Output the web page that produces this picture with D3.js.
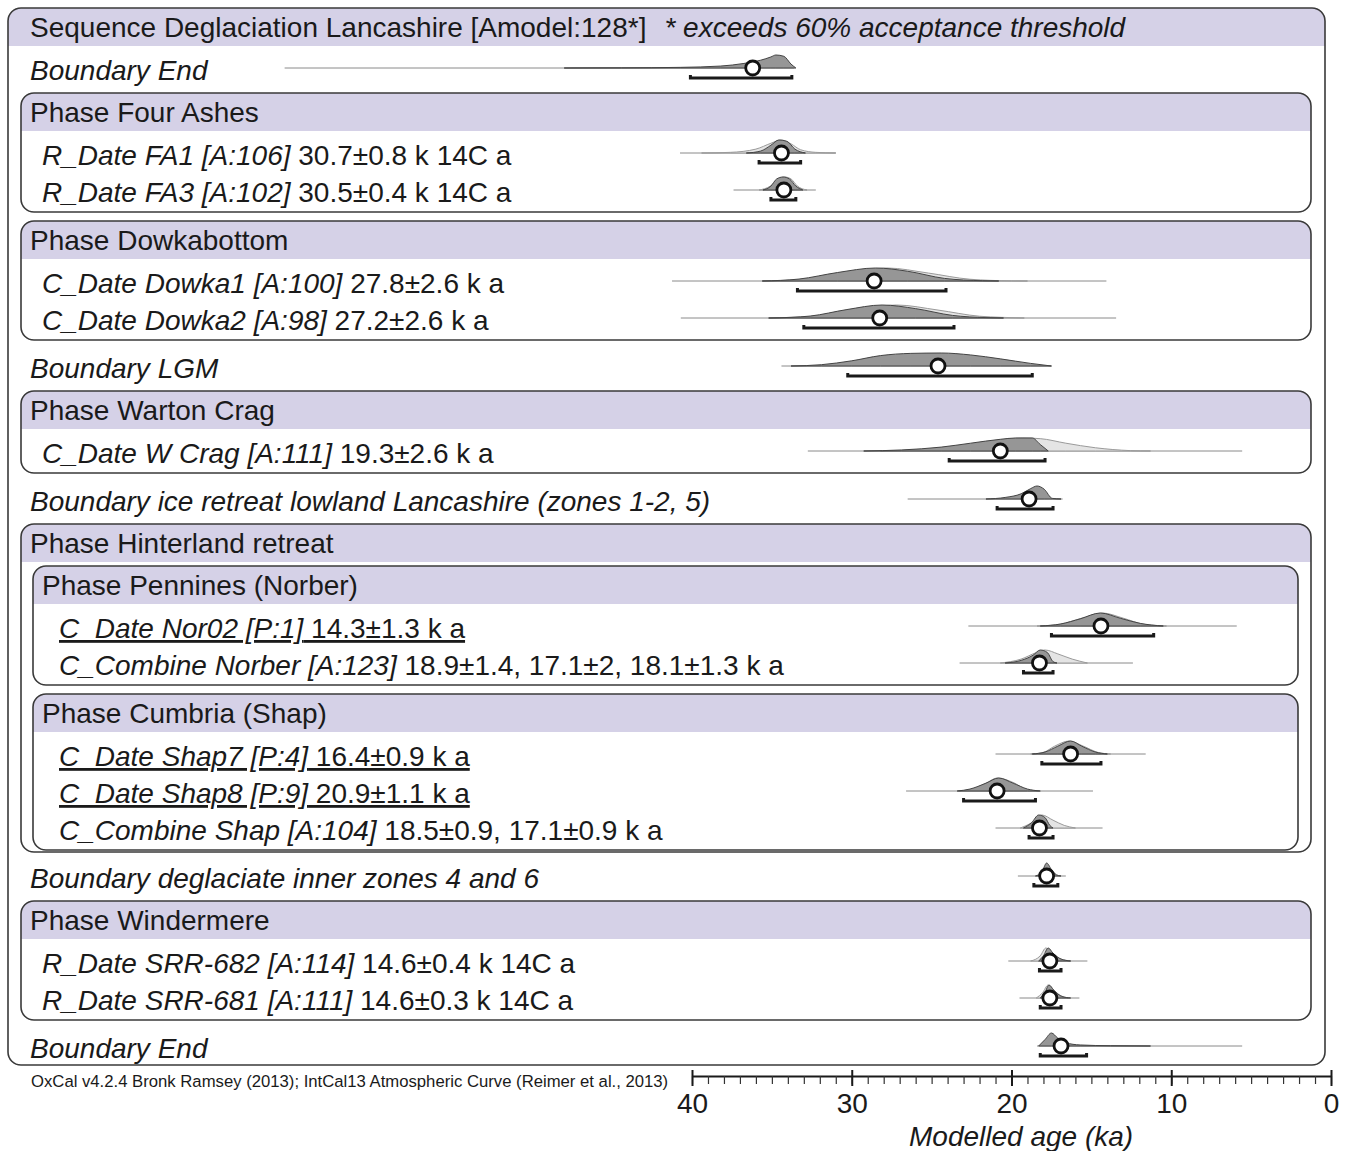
<!DOCTYPE html>
<html>
<head>
<meta charset="utf-8">
<script src="https://cdn.jsdelivr.net/npm/d3@7"></script>
<style>
  body { margin: 0; background: #fff; }
  text { font-family: "Liberation Sans", Arial, sans-serif; fill: #1a1a1a; }
</style>
</head>
<body>
<div id="chart"></div>
<script>
// ---- data (ages in ka, densities relative to peak) ----
const titleText = "Sequence Deglaciation Lancashire [Amodel:128*]";
const titleNote = "* exceeds 60% acceptance threshold";
const creditText = "OxCal v4.2.4 Bronk Ramsey (2013); IntCal13 Atmospheric Curve (Reimer et al., 2013)";
const axisTitle = "Modelled age (ka)";
const majorTicks = [40, 30, 20, 10, 0];

const names = [
  "Boundary End",
  "R_Date FA1 [A:106]", "R_Date FA3 [A:102]",
  "C_Date Dowka1 [A:100]", "C_Date Dowka2 [A:98]",
  "Boundary LGM",
  "C_Date W Crag [A:111]",
  "Boundary ice retreat lowland Lancashire (zones 1-2, 5)",
  "C_Date Nor02 [P:1]", "C_Combine Norber [A:123]",
  "C_Date Shap7 [P:4]", "C_Date Shap8 [P:9]", "C_Combine Shap [A:104]",
  "Boundary deglaciate inner zones 4 and 6",
  "R_Date SRR-682 [A:114]", "R_Date SRR-681 [A:111]",
  "Boundary End"
];
const values = [
  "",
  "30.7±0.8 k 14C a", "30.5±0.4 k 14C a",
  "27.8±2.6 k a", "27.2±2.6 k a",
  "",
  "19.3±2.6 k a",
  "",
  "14.3±1.3 k a", "18.9±1.4, 17.1±2, 18.1±1.3 k a",
  "16.4±0.9 k a", "20.9±1.1 k a", "18.5±0.9, 17.1±0.9 k a",
  "",
  "14.6±0.4 k 14C a", "14.6±0.3 k 14C a",
  ""
];
const underlined = [8, 10, 11];

// extent of the thin base line [from, to]
const spans = [
  [65.5, 33.6], [40.75, 31.0], [37.4, 32.25], [41.25, 14.06], [40.7, 13.45],
  [34.4, 17.5], [32.75, 5.56], [26.5, 16.8], [22.7, 5.9], [23.25, 12.4],
  [21.0, 11.6], [26.6, 14.9], [21.0, 14.3], [19.6, 16.6], [20.2, 15.25],
  [19.5, 15.75], [18.4, 5.56]
];
const means = [36.2, 34.4, 34.25, 28.6, 28.25, 24.6, 20.7, 18.9, 14.4, 18.25,
               16.3, 20.9, 18.25, 17.8, 17.6, 17.6, 16.9];
const ranges95 = [
  [40.1, 33.75], [35.8, 33.2], [35.06, 33.5], [33.4, 24.1], [33.0, 23.6],
  [30.25, 18.7], [23.9, 17.9], [20.9, 17.4], [17.5, 11.1], [19.25, 17.4],
  [18.1, 14.4], [23.0, 18.5], [18.9, 17.4], [18.6, 17.1], [18.25, 16.9],
  [18.2, 16.9], [18.2, 15.3]
];
const posterior = [
  [[48.0,0],[44.4,0.01],[40.7,0.05],[38.2,0.15],[36.75,0.35],[35.7,0.6],[35.06,0.85],[34.75,1],[34.25,0.9],[33.8,0.3],[33.5,0]],
  [[36.6,0],[35.7,0.15],[35.06,0.6],[34.56,1],[34.06,0.9],[33.56,0.3],[32.9,0]],
  [[35.56,0],[35.06,0.3],[34.7,0.85],[34.3,1],[33.9,0.85],[33.5,0.3],[33.06,0]],
  [[35.6,0],[33.3,0.15],[30.9,0.65],[28.5,1],[26.5,0.75],[24.2,0.2],[21.8,0.02],[20.8,0]],
  [[35.2,0],[33.8,0.05],[32.6,0.15],[30.3,0.65],[28.1,1],[26.0,0.72],[23.7,0.2],[21.6,0.03],[20.5,0]],
  [[33.8,0],[31.9,0.1],[30.0,0.4],[28.2,0.8],[26.3,0.97],[24.4,1],[22.56,0.85],[20.7,0.55],[18.8,0.2],[17.5,0]],
  [[29.25,0],[26.9,0.08],[24.4,0.3],[22.56,0.6],[20.7,0.9],[19.75,1],[18.7,1],[18.2,0.5],[17.7,0]],
  [[21.6,0],[20.4,0.12],[19.4,0.4],[18.8,0.8],[18.4,1],[17.95,0.75],[17.45,0.05],[16.9,0]],
  [[18.2,0],[16.94,0.15],[15.7,0.55],[14.44,1],[13.2,0.6],[11.94,0.2],[10.5,0]],
  [[20.4,0],[19.4,0.2],[18.65,0.6],[18.2,1],[17.75,0.8],[17.4,0.1],[17.15,0]],
  [[18.7,0],[17.9,0.15],[17.1,0.6],[16.3,1],[15.6,0.6],[14.75,0.15],[14.0,0]],
  [[23.4,0],[22.6,0.15],[21.6,0.6],[20.8,1],[19.9,0.6],[19.0,0.15],[18.2,0]],
  [[19.25,0],[18.75,0.4],[18.3,1],[17.9,0.8],[17.6,0.2],[17.4,0]],
  [[18.5,0],[18.1,0.3],[17.8,1],[17.5,0.5],[17.2,0.1],[16.9,0]],
  [[18.3,0],[18.0,0.4],[17.7,1],[17.4,0.6],[16.9,0.15],[16.3,0]],
  [[18.2,0],[17.9,0.45],[17.65,1],[17.35,0.6],[16.85,0.12],[16.3,0]],
  [[18.3,0],[17.9,0.5],[17.5,1],[17.1,0.6],[16.6,0.25],[15.7,0.08],[13.8,0.02],[11.3,0]]
];
const prior = [
  null,
  [[39.4,0],[37.6,0.05],[36.0,0.3],[35.06,0.75],[34.44,1],[33.8,0.7],[33.2,0.25],[32.25,0.05],[31.0,0]],
  [[35.8,0],[35.1,0.3],[34.6,0.85],[34.2,1],[33.8,0.85],[33.4,0.3],[32.8,0]],
  [[35.6,0],[33.0,0.135],[30.4,0.61],[27.8,1],[25.2,0.61],[22.6,0.135],[20.0,0.01],[19.0,0]],
  [[35.2,0],[33.8,0.05],[32.4,0.135],[29.8,0.61],[27.2,1],[24.6,0.61],[22.0,0.135],[20.6,0.05],[19.2,0]],
  null,
  [[28.2,0],[25.0,0.15],[22.56,0.5],[20.7,0.85],[19.3,1],[18.2,0.95],[16.6,0.6],[14.75,0.25],[12.56,0.03],[11.3,0]],
  null,
  [[18.4,0],[17.0,0.13],[15.6,0.6],[14.3,1],[13.0,0.6],[11.7,0.13],[10.3,0]],
  [[20.7,0],[19.4,0.3],[18.45,0.8],[17.9,1],[17.1,0.7],[16.2,0.3],[15.25,0]],
  [[18.8,0],[18.0,0.13],[17.3,0.6],[16.4,1],[15.5,0.6],[14.6,0.13],[13.8,0]],
  [[23.3,0],[22.5,0.13],[21.6,0.6],[20.9,1],[19.8,0.6],[19.1,0.13],[18.3,0]],
  [[19.45,0],[18.75,0.4],[18.1,1],[17.4,0.6],[16.7,0.2],[16.0,0]],
  null,
  [[18.8,0],[18.2,0.4],[17.85,1],[17.5,0.7],[17.0,0.2],[16.3,0]],
  [[18.45,0],[18.06,0.4],[17.7,1],[17.4,0.65],[16.94,0.2],[16.44,0]],
  null
];

// model structure: boundaries and (nested) phases, rows refer to the arrays above
const structure = [
  { kind: "boundary", row: 0 },
  { kind: "phase", name: "Phase Four Ashes", children: [{ row: 1 }, { row: 2 }] },
  { kind: "phase", name: "Phase Dowkabottom", children: [{ row: 3 }, { row: 4 }] },
  { kind: "boundary", row: 5 },
  { kind: "phase", name: "Phase Warton Crag", children: [{ row: 6 }] },
  { kind: "boundary", row: 7 },
  { kind: "phase", name: "Phase Hinterland retreat", children: [
    { kind: "phase", name: "Phase Pennines (Norber)", children: [{ row: 8 }, { row: 9 }] },
    { kind: "phase", name: "Phase Cumbria (Shap)", children: [{ row: 10 }, { row: 11 }, { row: 12 }] }
  ] },
  { kind: "boundary", row: 13 },
  { kind: "phase", name: "Phase Windermere", children: [{ row: 14 }, { row: 15 }] },
  { kind: "boundary", row: 16 }
];

// ---- layout ----
const W = 1350, H = 1151;
const fontSize = 28;
const purple = "#d5d1e7";
const boxStroke = "#3a3a3a";

const svg = d3.select("#chart").append("svg")
    .attr("width", W)
    .attr("height", H);

const x = d3.scaleLinear().domain([40, 0]).range([692, 1331]);
const h = d3.scaleLinear().domain([0, 1]).range([0, 13]);

// vertical positions come from the row order
var cursor = 27, prev = "title", lastBottom = 0;
const gaps = { title: 43, header: 43, entry: 37, boundary: 42, close: 48 };
function nextRow(kind) {
    var g = gaps[prev];
    if (prev == "header" && kind == "header") g = 42;
    cursor += g;
    prev = kind;
    return cursor;
}
const boxes = [], rows = [];
function walk(items, depth) {
    items.forEach(function(it) {
        if (it.kind == "phase") {
            var y = nextRow("header");
            var box = { name: it.name, depth: depth, top: y - 19, y: y };
            boxes.push(box);
            walk(it.children, depth + 1);
            box.bottom = prev == "close" ? lastBottom + 2 : cursor + 20;
            lastBottom = box.bottom;
            prev = "close";
        } else {
            var y = nextRow(it.kind == "boundary" ? "boundary" : "entry");
            rows.push({ i: it.row, depth: depth, y: y });
        }
    });
}
walk(structure, 0);

const textX = [30, 42, 59];
const boxX = [[8, 1325], [21, 1311], [33, 1298]];

function roundBox(x0, x1, top, bottom) {
    const r = 13, hh = 38;
    svg.append("rect")
        .attr("x", x0).attr("y", top)
        .attr("width", x1 - x0).attr("height", bottom - top)
        .attr("rx", r)
        .attr("fill", "#fff");
    svg.append("path")
        .attr("d", "M" + x0 + "," + (top + hh) + "V" + (top + r) +
             "A" + r + "," + r + " 0 0 1 " + (x0 + r) + "," + top +
             "H" + (x1 - r) + "A" + r + "," + r + " 0 0 1 " + x1 + "," + (top + r) +
             "V" + (top + hh) + "Z")
        .attr("fill", purple);
    svg.append("rect")
        .attr("x", x0).attr("y", top)
        .attr("width", x1 - x0).attr("height", bottom - top)
        .attr("rx", r)
        .attr("fill", "none")
        .attr("stroke", boxStroke)
        .attr("stroke-width", 1.6);
}

// sequence box
roundBox(boxX[0][0], boxX[0][1], 8, cursor + 17);
const title = svg.append("text")
    .attr("x", textX[0]).attr("y", 27 + 10)
    .style("font-size", fontSize + "px");
title.append("tspan").text(titleText);
title.append("tspan").attr("dx", 18).style("font-style", "italic").text(titleNote);

// phase boxes
boxes.forEach(function(b) {
    roundBox(boxX[b.depth + 1][0], boxX[b.depth + 1][1], b.top, b.bottom);
    svg.append("text")
        .attr("x", textX[b.depth]).attr("y", b.y + 10)
        .style("font-size", fontSize + "px")
        .text(b.name);
});

// row labels
rows.forEach(function(r) {
    const t = svg.append("text")
        .attr("x", textX[r.depth]).attr("y", r.y + 10)
        .style("font-size", fontSize + "px");
    if (underlined.indexOf(r.i) >= 0) t.style("text-decoration", "underline");
    t.append("tspan").style("font-style", "italic").text(names[r.i]);
    if (values[r.i]) t.append("tspan").text(" " + values[r.i]);
});

// distributions
const area = function(base) {
    return d3.area()
        .x(function(d) { return x(d[0]); })
        .y0(base)
        .y1(function(d) { return base - h(d[1]); })
        .curve(d3.curveMonotoneX);
};
rows.forEach(function(r) {
    const base = r.y - 2;
    const g = svg.append("g");
    g.append("line")
        .attr("x1", x(spans[r.i][0])).attr("x2", x(spans[r.i][1]))
        .attr("y1", base).attr("y2", base)
        .attr("stroke", "#8a8a8a").attr("stroke-width", 1);
    if (prior[r.i]) {
        g.append("path")
            .attr("d", area(base)(prior[r.i]))
            .attr("fill", "#e4e4e4")
            .attr("stroke", "#9a9a9a")
            .attr("stroke-width", 1);
    }
    g.append("path")
        .attr("d", area(base)(posterior[r.i]))
        .attr("fill", "#969696")
        .attr("stroke", "#444")
        .attr("stroke-width", 1);
    // 95% range bar
    const by = base + 10;
    const x0 = x(ranges95[r.i][0]), x1 = x(ranges95[r.i][1]);
    g.append("path")
        .attr("d", "M" + x0 + "," + (by - 3) + "V" + by + "H" + x1 + "V" + (by - 3))
        .attr("fill", "none")
        .attr("stroke", "#1a1a1a")
        .attr("stroke-width", 3);
    g.append("circle")
        .attr("cx", x(means[r.i])).attr("cy", base)
        .attr("r", 7)
        .attr("fill", "#fff")
        .attr("stroke", "#111")
        .attr("stroke-width", 2.8);
});

// axis
const axisY = 1076;
svg.append("g")
    .attr("transform", "translate(0," + axisY + ")")
    .call(d3.axisBottom(x).tickValues(d3.range(0, 41)).tickSize(8).tickSizeOuter(0).tickFormat(""))
    .call(function(g) {
        g.select(".domain").attr("stroke", "#1a1a1a").attr("stroke-width", 2);
        g.selectAll(".tick line").attr("stroke", "#333").attr("stroke-width", 1.2);
    });
svg.append("g")
    .attr("transform", "translate(0," + axisY + ")")
    .call(d3.axisBottom(x).tickValues(majorTicks).tickSize(10).tickSizeOuter(0).tickPadding(7))
    .call(function(g) {
        g.select(".domain").remove();
        g.selectAll(".tick line").attr("y1", -6).attr("stroke", "#1a1a1a").attr("stroke-width", 2);
        g.selectAll(".tick text")
            .style("font-size", fontSize + "px")
            .style("font-family", "'Liberation Sans', Arial, sans-serif")
            .attr("fill", "#1a1a1a");
    });
svg.append("text")
    .attr("x", x(19.4)).attr("y", 1146)
    .attr("text-anchor", "middle")
    .style("font-size", fontSize + "px")
    .style("font-style", "italic")
    .text(axisTitle);

svg.append("text")
    .attr("x", 31).attr("y", 1087)
    .style("font-size", "16.7px")
    .text(creditText);
</script>
</body>
</html>
